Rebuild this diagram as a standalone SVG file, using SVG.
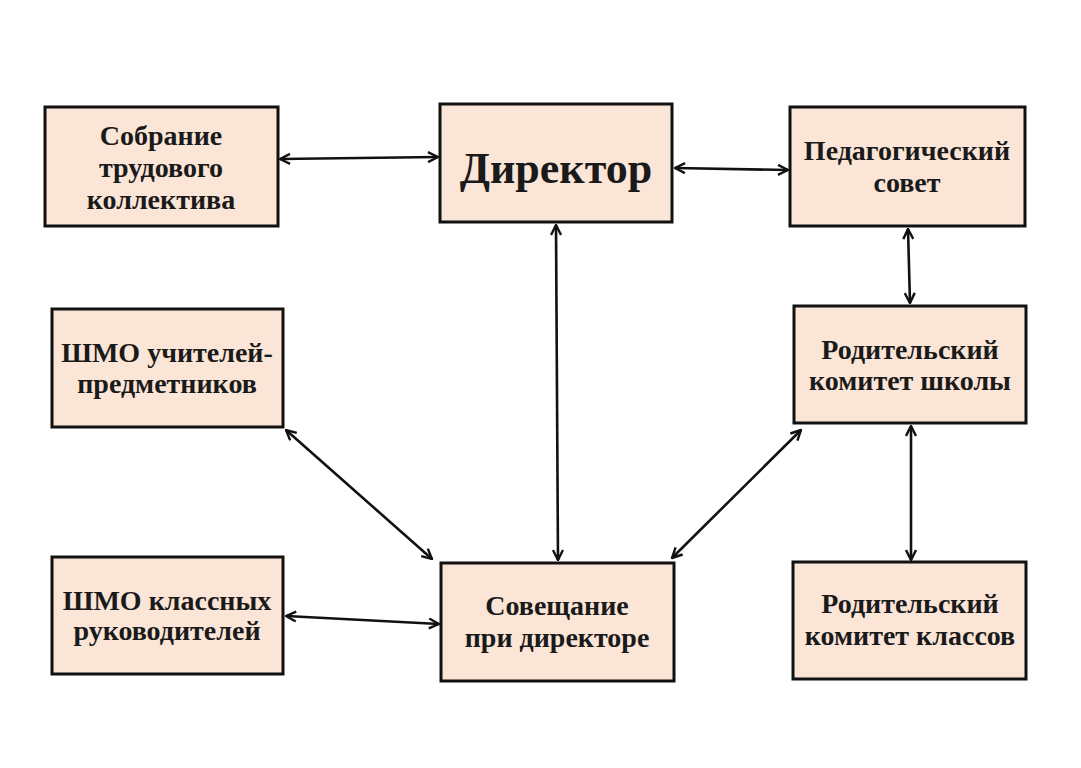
<svg xmlns="http://www.w3.org/2000/svg" width="1081" height="768" viewBox="0 0 1081 768">
<style>
.box{fill:#FBE5D6;stroke:#111;stroke-width:3}
.t{font-family:"Liberation Serif","Times New Roman",serif;font-weight:bold;font-size:28px;fill:#1a1a1a;text-anchor:middle}
.big{font-size:44px}
.c{stroke:#111;stroke-width:2.6;fill:none;marker-start:url(#ah);marker-end:url(#ah)}
</style>
<defs>
<marker id="ah" viewBox="0 0 12 12" refX="11" refY="6" markerWidth="12" markerHeight="12" markerUnits="userSpaceOnUse" orient="auto-start-reverse">
<path d="M1,1 L11,6 L1,11" fill="none" stroke="#111" stroke-width="2.4" stroke-linejoin="miter"/>
</marker>
</defs>
<rect width="1081" height="768" fill="#fff"/>
<g id="connectors">
<line class="c" x1="280" y1="159" x2="438" y2="157"/>
<line class="c" x1="675" y1="168" x2="788" y2="170"/>
<line class="c" x1="556" y1="225" x2="558" y2="560"/>
<line class="c" x1="908" y1="229" x2="910" y2="303"/>
<line class="c" x1="911" y1="426" x2="911" y2="560"/>
<line class="c" x1="286" y1="430" x2="432" y2="559"/>
<line class="c" x1="801" y1="430" x2="672" y2="558"/>
<line class="c" x1="286" y1="616" x2="439" y2="624"/>
</g>
<g id="sobranie">
<rect class="box" x="45" y="107" width="233" height="119"/>
<text class="t" x="161" y="145">Собрание</text>
<text class="t" x="161" y="177">трудового</text>
<text class="t" x="161" y="209">коллектива</text>
</g>
<g id="direktor">
<rect class="box" x="440" y="104" width="232" height="118"/>
<text class="t big" x="556" y="183">Директор</text>
</g>
<g id="pedsovet">
<rect class="box" x="790" y="107" width="235" height="119"/>
<text class="t" x="907" y="160">Педагогический</text>
<text class="t" x="907" y="192">совет</text>
</g>
<g id="shmo-uchitelei">
<rect class="box" x="52" y="309" width="231" height="118"/>
<text class="t" x="167" y="362">ШМО учителей-</text>
<text class="t" x="167" y="393">предметников</text>
</g>
<g id="roditelskiy-shkoly">
<rect class="box" x="794" y="306" width="232" height="117"/>
<text class="t" x="910" y="359">Родительский</text>
<text class="t" x="910" y="390">комитет школы</text>
</g>
<g id="shmo-klassnyh">
<rect class="box" x="52" y="557" width="231" height="117"/>
<text class="t" x="167" y="610">ШМО классных</text>
<text class="t" x="167" y="640">руководителей</text>
</g>
<g id="soveshchanie">
<rect class="box" x="441" y="563" width="233" height="118"/>
<text class="t" x="557" y="615">Совещание</text>
<text class="t" x="557" y="647">при директоре</text>
</g>
<g id="roditelskiy-klassov">
<rect class="box" x="793" y="562" width="233" height="117"/>
<text class="t" x="910" y="613">Родительский</text>
<text class="t" x="910" y="645">комитет классов</text>
</g>
</svg>
